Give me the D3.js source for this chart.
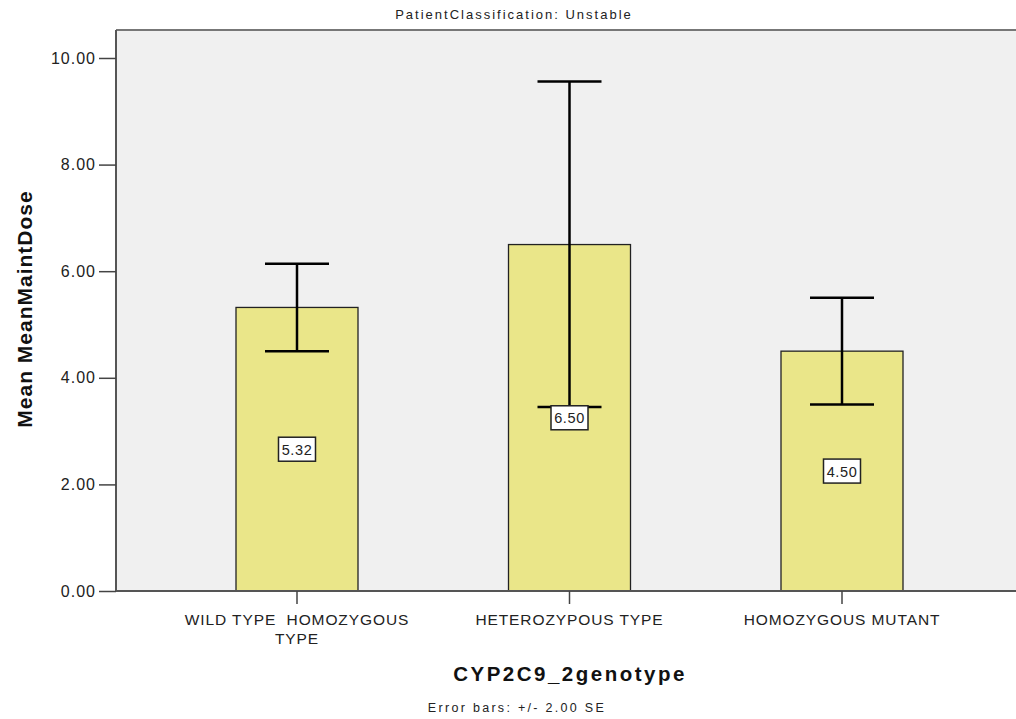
<!DOCTYPE html>
<html><head><meta charset="utf-8">
<script src="https://cdn.jsdelivr.net/npm/d3@7"></script>
<style>body{margin:0;background:#fff;} svg{display:block;font-family:"Liberation Sans",Arial,sans-serif;}</style>
</head><body>
<svg id="c" width="1016" height="719"></svg>
<script>
const categories = ["WILD TYPE  HOMOZYGOUS TYPE", "HETEROZYPOUS TYPE", "HOMOZYGOUS MUTANT"];
const categoryLines = [["WILD TYPE  HOMOZYGOUS", "TYPE"], ["HETEROZYPOUS TYPE"], ["HOMOZYGOUS MUTANT"]];
const means = [5.32, 6.50, 4.50];
const errLow = [4.50, 3.45, 3.50];
const errHigh = [6.14, 9.56, 5.50];
const yTicks = [0, 2, 4, 6, 8, 10];

(function () {
const svg = d3.select("#c");
const pL = 116, pR = 1016, pT = 30, pB = 591;

svg.append("rect").attr("x", pL).attr("y", pT).attr("width", pR - pL).attr("height", pB - pT).attr("fill", "#f0f0f0");
svg.append("line").attr("x1", pL).attr("x2", pR).attr("y1", pT).attr("y2", pT).attr("stroke", "#777").attr("stroke-width", 2);

const y = d3.scaleLinear().domain([0, 10]).range([pB, 58]);
const x = d3.scaleBand().domain(categories).range([236, 903]).paddingInner(0.5523).paddingOuter(0);

const g = svg.append("g");
g.selectAll("rect.bar").data(categories).join("rect")
  .attr("x", d => x(d)).attr("width", x.bandwidth())
  .attr("y", (d, i) => y(means[i])).attr("height", (d, i) => pB - y(means[i]))
  .attr("fill", "#eae689").attr("stroke", "#222").attr("stroke-width", 1.3);

const cx = d => x(d) + x.bandwidth() / 2;
const capW = 64;
categories.forEach((d, i) => {
  const c = cx(d);
  g.append("line").attr("x1", c).attr("x2", c).attr("y1", y(errHigh[i])).attr("y2", y(errLow[i])).attr("stroke", "#000").attr("stroke-width", 2.5);
  [errHigh[i], errLow[i]].forEach(v => {
    g.append("line").attr("x1", c - capW / 2).attr("x2", c + capW / 2).attr("y1", y(v)).attr("y2", y(v)).attr("stroke", "#000").attr("stroke-width", 2.5);
  });
  const ly = y(means[i] / 2);
  g.append("rect").attr("x", c - 18.5).attr("y", ly - 12).attr("width", 37).attr("height", 24).attr("fill", "#fff").attr("stroke", "#222").attr("stroke-width", 1.5);
  g.append("text").attr("x", c).attr("y", ly + 5.5).attr("text-anchor", "middle").attr("font-size", 14.5).attr("letter-spacing", "0.6").attr("fill", "#222").text(means[i].toFixed(2));
});

// y axis
const ya = svg.append("g").attr("transform", `translate(${pL},0)`)
  .call(d3.axisLeft(y).tickValues(yTicks).tickFormat(d3.format(".2f")).tickSize(17).tickPadding(3));
ya.select(".domain").attr("stroke", "#555").attr("stroke-width", 2).attr("d", `M0,${pT}V${pB}`);
ya.selectAll(".tick line").attr("stroke", "#444").attr("stroke-width", 1.5);
ya.selectAll(".tick text").attr("font-size", 16).attr("letter-spacing", "1").attr("fill", "#222").attr("font-family", "Liberation Sans, Arial, sans-serif");

// x axis
const xa = svg.append("g").attr("transform", `translate(0,${pB})`)
  .call(d3.axisBottom(x).tickSize(13).tickFormat(""));
xa.select(".domain").attr("stroke", "#555").attr("stroke-width", 2).attr("d", `M${pL},0H${pR}`);
xa.selectAll(".tick line").attr("stroke", "#444").attr("stroke-width", 1.5);
categories.forEach((d, i) => {
  const t = svg.append("text").attr("x", cx(d)).attr("y", 625).attr("text-anchor", "middle")
    .attr("font-size", 15.5).attr("fill", "#222").attr("letter-spacing", "0.9").style("white-space", "pre");
  categoryLines[i].forEach((ln, k) => t.append("tspan").attr("x", cx(d)).attr("dy", k === 0 ? 0 : 19).text(ln));
});

// titles
svg.append("text").attr("x", 514).attr("y", 19).attr("text-anchor", "middle").attr("font-size", 13).attr("fill", "#222").attr("letter-spacing", "2").text("PatientClassification: Unstable");
svg.append("text").attr("x", 570).attr("y", 681).attr("text-anchor", "middle").attr("font-size", 20.5).attr("font-weight", "bold").attr("fill", "#111").attr("letter-spacing", "2.5").text("CYP2C9_2genotype");
svg.append("text").attr("transform", "translate(32,309) rotate(-90)").attr("text-anchor", "middle").attr("font-size", 21).attr("font-weight", "bold").attr("fill", "#111").attr("letter-spacing", "1").text("Mean MeanMaintDose");
svg.append("text").attr("x", 517).attr("y", 712).attr("text-anchor", "middle").attr("font-size", 12.5).attr("fill", "#222").attr("letter-spacing", "2.3").text("Error bars: +/- 2.00 SE");
})();
</script>
</body></html>
